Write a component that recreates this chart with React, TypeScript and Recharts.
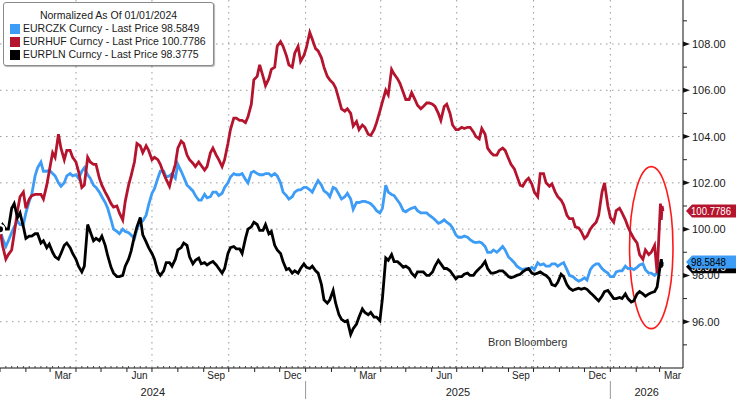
import React from "react";
import {
  CartesianGrid,
  Line,
  LineChart,
  ReferenceArea,
  ReferenceDot,
  XAxis,
  YAxis,
} from "recharts";

// twice-weekly closes (Mon / Thu), normalized to 100 on 01/01/2024
const dates = [
  "2024-01-01", "2024-01-04", "2024-01-08", "2024-01-11", "2024-01-15", "2024-01-18", "2024-01-22", "2024-01-25", "2024-01-29", "2024-02-01",
  "2024-02-05", "2024-02-08", "2024-02-12", "2024-02-15", "2024-02-19", "2024-02-22", "2024-02-26", "2024-02-29",
  "2024-03-04", "2024-03-07", "2024-03-11", "2024-03-14", "2024-03-18", "2024-03-21", "2024-03-25", "2024-03-28",
  "2024-04-01", "2024-04-04", "2024-04-08", "2024-04-11", "2024-04-15", "2024-04-18", "2024-04-22", "2024-04-25", "2024-04-29", "2024-05-02",
  "2024-05-06", "2024-05-09", "2024-05-13", "2024-05-16", "2024-05-20", "2024-05-23", "2024-05-27", "2024-05-30",
  "2024-06-03", "2024-06-06", "2024-06-10", "2024-06-13", "2024-06-17", "2024-06-20", "2024-06-24", "2024-06-27",
  "2024-07-01", "2024-07-04", "2024-07-08", "2024-07-11", "2024-07-15", "2024-07-18", "2024-07-22", "2024-07-25", "2024-07-29", "2024-08-01",
  "2024-08-05", "2024-08-08", "2024-08-12", "2024-08-15", "2024-08-19", "2024-08-22", "2024-08-26", "2024-08-29",
  "2024-09-02", "2024-09-05", "2024-09-09", "2024-09-12", "2024-09-16", "2024-09-19", "2024-09-23", "2024-09-26", "2024-09-30", "2024-10-03",
  "2024-10-07", "2024-10-10", "2024-10-14", "2024-10-17", "2024-10-21", "2024-10-24", "2024-10-28", "2024-10-31",
  "2024-11-04", "2024-11-07", "2024-11-11", "2024-11-14", "2024-11-18", "2024-11-21", "2024-11-25", "2024-11-28",
  "2024-12-02", "2024-12-05", "2024-12-09", "2024-12-12", "2024-12-16", "2024-12-19", "2024-12-23", "2024-12-26", "2024-12-30", "2025-01-02",
  "2025-01-06", "2025-01-09", "2025-01-13", "2025-01-16", "2025-01-20", "2025-01-23", "2025-01-27", "2025-01-30",
  "2025-02-03", "2025-02-06", "2025-02-10", "2025-02-13", "2025-02-17", "2025-02-20", "2025-02-24", "2025-02-27",
  "2025-03-03", "2025-03-06", "2025-03-10", "2025-03-13", "2025-03-17", "2025-03-20", "2025-03-24", "2025-03-27", "2025-03-31", "2025-04-03",
  "2025-04-07", "2025-04-10", "2025-04-14", "2025-04-17", "2025-04-21", "2025-04-24", "2025-04-28", "2025-05-01",
  "2025-05-05", "2025-05-08", "2025-05-12", "2025-05-15", "2025-05-19", "2025-05-22", "2025-05-26", "2025-05-29",
  "2025-06-02", "2025-06-05", "2025-06-09", "2025-06-12", "2025-06-16", "2025-06-19", "2025-06-23", "2025-06-26", "2025-06-30", "2025-07-03",
  "2025-07-07", "2025-07-10", "2025-07-14", "2025-07-17", "2025-07-21", "2025-07-24", "2025-07-28", "2025-07-31",
  "2025-08-04", "2025-08-07", "2025-08-11", "2025-08-14", "2025-08-18", "2025-08-21", "2025-08-25", "2025-08-28",
  "2025-09-01", "2025-09-04", "2025-09-08", "2025-09-11", "2025-09-15", "2025-09-18", "2025-09-22", "2025-09-25", "2025-09-29", "2025-10-02",
  "2025-10-06", "2025-10-09", "2025-10-13", "2025-10-16", "2025-10-20", "2025-10-23", "2025-10-27", "2025-10-30",
  "2025-11-03", "2025-11-06", "2025-11-10", "2025-11-13", "2025-11-17", "2025-11-20", "2025-11-24", "2025-11-27",
  "2025-12-01", "2025-12-04", "2025-12-08", "2025-12-11", "2025-12-15", "2025-12-18", "2025-12-22", "2025-12-25", "2025-12-29", "2026-01-01",
  "2026-01-05", "2026-01-08", "2026-01-12", "2026-01-15", "2026-01-19", "2026-01-22", "2026-01-26", "2026-01-29",
  "2026-02-02", "2026-02-05", "2026-02-09", "2026-02-12", "2026-02-16", "2026-02-19", "2026-02-23", "2026-02-26",
  "2026-03-02", "2026-03-03", "2026-03-04", "2026-03-05",
];

const eurczk = [
  100.0, 99.6, 99.25, 99.5, 99.85, 100.1, 100.35, 100.2, 100.2, 100.7,
  101.2, 101.5, 102.3, 102.65, 102.9, 102.5, 102.5, 102.55,
  102.4, 102.3, 102.0, 101.85, 102.0, 102.3, 102.4, 102.3,
  102.35, 102.2, 102.5, 102.65, 102.35, 102.2, 101.9, 101.8, 101.6, 101.4,
  101.15, 100.9, 100.4, 100.0, 99.9, 99.8, 100.0, 99.9,
  99.85, 99.75, 99.6, 100.0, 100.3, 100.35, 100.6, 101.05,
  101.55, 101.75, 102.2, 102.5, 102.5, 102.25, 102.3, 102.4, 102.2, 102.8,
  102.5, 102.25, 101.9, 101.8, 101.65, 101.45, 101.25, 101.25,
  101.5, 101.35, 101.4, 101.6, 101.6, 101.45, 101.55, 101.8, 102.0, 102.25,
  102.4, 102.35, 102.35, 102.4, 102.15, 102.0, 102.45, 102.5,
  102.4, 102.35, 102.35, 102.4, 102.4, 102.3, 102.4, 102.3,
  102.0, 101.6, 101.45, 101.3, 101.4, 101.6, 101.7, 101.7, 101.8, 101.8,
  101.7, 101.6, 101.9, 102.1, 101.9, 101.65, 101.55, 101.4,
  101.8, 101.75, 101.5, 101.3, 101.4, 101.55, 101.3, 100.85,
  101.15, 101.15, 101.2, 101.2, 101.15, 101.1, 100.95, 100.8, 100.7, 100.9,
  101.9, 101.6, 101.5, 101.45, 101.25, 101.1, 100.8, 100.75,
  100.85, 100.9, 100.95, 100.8, 100.7, 100.7, 100.7, 100.6,
  100.5, 100.4, 100.25, 100.3, 100.4, 100.3, 100.2, 100.05, 99.75, 99.65,
  99.65, 99.7, 99.65, 99.55, 99.45, 99.42, 99.45, 99.4,
  99.25, 99.0, 99.0, 99.1, 99.0, 99.1, 99.25, 99.1,
  98.8, 98.7, 98.55, 98.4, 98.3, 98.25, 98.3, 98.25, 98.35, 98.25,
  98.55, 98.45, 98.5, 98.4, 98.4, 98.5, 98.5, 98.4,
  98.5, 98.55, 98.25, 98.0, 97.95, 97.85, 97.75, 97.8,
  97.9, 97.8, 98.25, 98.4, 98.5, 98.5, 98.3, 98.2, 98.1, 97.95,
  97.95, 98.15, 98.2, 98.2, 98.4, 98.3, 98.3, 98.25,
  98.35, 98.45, 98.5, 98.25, 98.1, 98.1, 98.0, 98.1,
  98.4, 98.5, 98.5, 98.5849,
];

const eurhuf = [
  100.0, 99.3, 98.7, 98.9, 99.1, 99.8, 100.8, 101.4, 101.6, 100.9,
  101.3, 101.45, 101.5, 101.5, 101.5, 101.3, 101.9, 102.5,
  103.3, 103.1, 104.1, 103.5, 103.0, 103.4, 103.4, 103.1,
  102.9, 102.5, 101.8, 101.9, 103.1, 102.9, 102.8, 102.8, 102.2, 101.9,
  101.6, 101.4, 101.1, 100.95, 101.0, 100.7, 100.4, 101.2,
  101.9, 102.3, 102.9, 103.7, 103.6, 103.3, 103.6, 103.4,
  103.0, 103.1, 103.0, 102.8, 102.4, 102.15, 101.85, 102.3, 102.8, 103.5,
  103.8, 103.7, 103.2, 103.0, 102.85, 102.7, 102.9, 102.75,
  102.55, 102.7, 103.3, 103.5, 103.2, 103.0, 102.7, 103.0, 103.7, 104.3,
  104.8, 104.8, 104.7, 104.7, 104.6, 104.85, 105.4, 106.45,
  106.6, 107.1, 106.6, 106.2, 106.5, 106.9, 107.0, 107.9,
  108.1, 107.9, 107.5, 107.1, 107.0, 107.6, 107.9, 107.25, 107.5, 107.85,
  108.5, 108.2, 107.8, 107.7, 107.4, 107.0, 106.6, 106.45,
  106.3, 106.1, 105.6, 105.2, 105.1, 105.2, 105.0, 104.45,
  104.65, 104.3, 104.5, 104.4, 104.1, 104.05, 104.3, 104.6, 105.1, 105.5,
  106.0, 105.8, 106.9, 106.7, 106.5, 106.3, 105.9, 105.6,
  105.6, 105.9, 105.6, 105.35, 105.2, 105.3, 105.45, 105.45,
  105.4, 105.3, 105.0, 104.7, 105.3, 105.4, 105.0, 104.5, 104.3, 104.3,
  104.4, 104.35, 104.4, 104.4, 104.2, 104.0, 103.9, 104.35,
  104.1, 103.5, 103.3, 103.2, 103.2, 103.4, 103.5, 103.4,
  103.05, 102.8, 102.6, 102.3, 101.9, 101.85, 102.1, 102.2, 101.95, 101.6,
  101.4, 102.4, 102.4, 102.0, 101.85, 101.95, 101.6, 101.4,
  101.25, 101.05, 100.6, 100.45, 100.45, 100.1, 100.05, 99.9,
  99.6, 99.7, 100.0, 100.15, 100.3, 100.6, 101.6, 102.0, 101.0, 100.5,
  100.3, 100.8, 100.9, 100.7, 100.4, 100.1, 99.8, 99.6,
  99.4, 98.9, 98.7, 99.1, 98.9, 99.0, 99.3, 98.1,
  101.1, 100.4, 101.0, 100.7786,
];

const eurpln = [
  100.0, 100.2, 100.0, 100.0, 100.9, 101.1, 100.5, 100.7, 100.1, 99.6,
  99.7, 99.7, 99.8, 99.8, 99.4, 99.5, 99.2, 99.35,
  99.0, 98.8, 98.7, 98.95, 99.3, 99.4, 99.2, 98.95,
  98.7, 98.4, 98.15, 98.4, 100.2, 99.9, 99.5, 99.6, 99.5, 99.7,
  99.3, 98.85, 98.35, 98.1, 97.95, 97.95, 98.0, 98.4,
  98.7, 99.05, 99.7, 100.1, 100.5, 99.75, 99.45, 99.2,
  98.95, 98.7, 98.15, 98.0, 98.2, 98.55, 98.55, 98.4, 98.7, 99.1,
  99.2, 99.4, 99.3, 98.8, 98.5, 98.65, 98.75, 98.5,
  98.55, 98.45, 98.55, 98.6, 98.45, 98.3, 98.1, 98.3, 98.95, 99.2,
  99.25, 99.15, 99.15, 98.95, 99.6, 100.0, 100.1, 100.3,
  100.2, 99.95, 99.95, 100.2, 99.8, 99.9, 99.3, 99.1,
  98.95, 98.6, 98.25, 98.3, 98.1, 98.2, 98.1, 98.3, 98.5, 98.35,
  98.3, 98.4, 98.2, 98.1, 97.6, 96.95, 96.8, 96.95,
  97.35, 96.8, 96.3, 96.1, 96.0, 96.05, 95.45, 95.7,
  95.9, 96.2, 96.55, 96.4, 96.3, 96.4, 96.2, 96.2, 96.05, 97.0,
  98.75, 98.65, 98.9, 98.6, 98.6, 98.5, 98.35, 98.4,
  98.3, 98.1, 97.95, 98.15, 98.15, 98.15, 98.0, 98.0,
  98.15, 98.4, 98.65, 98.5, 98.3, 98.3, 98.2, 98.05, 97.85, 97.95,
  97.95, 98.05, 98.1, 98.0, 98.0, 98.15, 98.3, 98.4,
  98.6, 98.3, 98.1, 98.1, 98.15, 98.2, 98.2, 98.1,
  97.95, 97.9, 97.95, 98.0, 98.05, 98.15, 98.25, 98.3, 98.1, 98.05,
  98.1, 98.15, 98.05, 98.0, 97.85, 97.6, 97.55, 97.7,
  98.05, 97.95, 97.6, 97.45, 97.35, 97.4, 97.45, 97.4,
  97.45, 97.4, 97.25, 97.15, 97.0, 96.9, 97.1, 97.3, 97.35, 97.2,
  97.0, 97.0, 97.05, 97.0, 97.2, 97.0, 96.85, 96.9,
  97.2, 97.3, 97.2, 97.1, 97.2, 97.25, 97.3, 97.5,
  98.5, 98.7, 98.4, 98.3775,
];

const monthStarts = [
  "2024-01-01", "2024-02-01", "2024-03-01", "2024-04-01", "2024-05-01", "2024-06-01",
  "2024-07-01", "2024-08-01", "2024-09-01", "2024-10-01", "2024-11-01", "2024-12-01",
  "2025-01-01", "2025-02-01", "2025-03-01", "2025-04-01", "2025-05-01", "2025-06-01",
  "2025-07-01", "2025-08-01", "2025-09-01", "2025-10-01", "2025-11-01", "2025-12-01",
  "2026-01-01", "2026-02-01", "2026-03-01",
];
const quarterStarts = [
  "2024-04-01", "2024-07-01", "2024-10-01", "2025-01-01",
  "2025-04-01", "2025-07-01", "2025-10-01", "2026-01-01",
];
const monthLabels: Record<number, string> = { 2: "Mar", 5: "Jun", 8: "Sep", 11: "Dec" };

const yMajor = [96, 98, 100, 102, 104, 106, 108];
const yTicks = [95, 96, 97, 98, 99, 100, 101, 102, 103, 104, 105, 106, 107, 108, 109];

const BLUE = "#3d9cf5";
const RED = "#b5142e";
const BLACK = "#000000";
const FONT = '"Liberation Sans", Arial, sans-serif';

const T0 = Date.parse("2024-01-01");
const TEND = Date.parse("2026-03-29");
const PLOT_W = 683;
const PX_PER_MS = PLOT_W / (TEND - T0);

const monthSet = new Set(monthStarts.map((d) => Date.parse(d)));
const minorTicks = dates
  .filter((d) => new Date(d).getUTCDay() === 1)
  .map((d) => Date.parse(d))
  .filter((t) => !monthSet.has(t));
const xTicks = [...monthStarts.map((d) => Date.parse(d)), ...minorTicks].sort((a, b) => a - b);

const rows = dates.map((d, i) => ({
  t: Date.parse(d),
  czk: eurczk[i],
  huf: eurhuf[i],
  pln: eurpln[i],
}));

const last = rows[rows.length - 1];

function XTick(props: any) {
  const { x, y, payload } = props;
  const v: number = payload.value;
  if (!monthSet.has(v)) {
    return <line x1={x} x2={x} y1={y} y2={y - 2} stroke="#444" />;
  }
  const d = new Date(v);
  const m = d.getUTCMonth();
  const yr = d.getUTCFullYear();
  const next = Date.UTC(yr, m + 1, 1);
  const label = monthLabels[m];
  let yearPart = null;
  if (m === 0) {
    const yearEnd = Math.min(Date.UTC(yr + 1, 0, 1), TEND);
    const yx = x + ((yearEnd - v) / 2) * PX_PER_MS;
    yearPart = (
      <g>
        {v !== T0 && <line x1={x} x2={x} y1={y + 13} y2={y + 31} stroke="#999" />}
        <text x={yx} y={y + 28} textAnchor="middle" fontSize={11} fill="#222" fontFamily={FONT}>
          {yr}
        </text>
      </g>
    );
  }
  return (
    <g>
      <line x1={x} x2={x} y1={y} y2={y + 4} stroke="#222" />
      {label && (
        <text
          x={x + ((next - v) / 2) * PX_PER_MS}
          y={y + 11}
          textAnchor="middle"
          fontSize={10}
          fill="#222"
          fontFamily={FONT}
        >
          {label}
        </text>
      )}
      {yearPart}
    </g>
  );
}

function YTick(props: any) {
  const { x, y, payload } = props;
  const v: number = payload.value;
  if (v % 2 !== 0) {
    return <line x1={x} x2={x + 4} y1={y} y2={y} stroke="#222" />;
  }
  return (
    <g>
      <polygon points={`${x},${y - 2.5} ${x + 7},${y} ${x},${y + 2.5}`} fill="#111" />
      <text x={x + 9} y={y + 4} fontSize={11} fill="#1a1a1a" fontFamily={FONT}>
        {v.toFixed(2)}
      </text>
    </g>
  );
}

function priceTag(bg: string, fg: string, text: string) {
  return (p: any) => {
    const { cx, cy } = p;
    return (
      <g>
        <polygon
          points={`${cx + 3},${cy} ${cx + 9},${cy - 6.5} 736,${cy - 6.5} 736,${cy + 6.5} ${cx + 9},${cy + 6.5}`}
          fill={bg}
        />
        <text
          x={cx + 8}
          y={cy + 4}
          fontSize={10.5}
          fill={fg}
          fontFamily={FONT}
          textLength={text.length > 7 ? 40 : 35}
          lengthAdjust="spacingAndGlyphs"
        >
          {text}
        </text>
      </g>
    );
  };
}

function Ellipse(p: any) {
  const { x, y, width, height } = p;
  return (
    <ellipse
      cx={x + width / 2}
      cy={y + height / 2}
      rx={width / 2}
      ry={height / 2}
      fill="none"
      stroke="#ff1a1a"
      strokeWidth={1.6}
    />
  );
}

const legendRows = [
  { color: BLUE, text: "EURCZK Curncy - Last Price 98.5849" },
  { color: RED, text: "EURHUF Curncy - Last Price 100.7786" },
  { color: BLACK, text: "EURPLN Curncy - Last Price 98.3775" },
];

export default function App() {
  return (
    <div
      style={{
        position: "absolute",
        left: 0,
        top: 0,
        width: 736,
        height: 399,
        background: "#fff",
        fontFamily: FONT,
        overflow: "hidden",
      }}
    >
      <LineChart width={736} height={399} data={rows} margin={{ top: 0, right: 0, bottom: 0, left: 0 }}>
        <CartesianGrid
          stroke="#9a9a9a"
          strokeDasharray="1.5 4.5"
          horizontalValues={yMajor}
          verticalValues={quarterStarts.map((d) => Date.parse(d))}
        />
        <XAxis
          dataKey="t"
          type="number"
          scale="linear"
          domain={[T0, TEND]}
          ticks={xTicks}
          interval={0}
          tick={<XTick />}
          tickLine={false}
          tickSize={0}
          tickMargin={0}
          height={31}
          axisLine={{ stroke: "#111" }}
          allowDataOverflow
        />
        <YAxis
          orientation="right"
          type="number"
          domain={[94.0, 109.9]}
          ticks={yTicks}
          interval={0}
          tick={<YTick />}
          tickLine={false}
          tickSize={0}
          tickMargin={0}
          width={53}
          axisLine={{ stroke: "#111" }}
          allowDataOverflow
        />
        <Line type="linear" dataKey="czk" stroke={BLUE} strokeWidth={2.8} dot={false} isAnimationActive={false} />
        <Line type="linear" dataKey="huf" stroke={RED} strokeWidth={2.8} dot={false} isAnimationActive={false} />
        <Line type="linear" dataKey="pln" stroke={BLACK} strokeWidth={2.8} dot={false} isAnimationActive={false} />
        <ReferenceArea
          x1={Date.parse("2026-01-24")}
          x2={Date.parse("2026-03-17")}
          y1={95.7}
          y2={102.7}
          ifOverflow="visible"
          shape={Ellipse}
        />
        <ReferenceDot x={TEND} y={last.pln} r={0} ifOverflow="visible" shape={priceTag(BLACK, "#fff", "98.3775")} />
        <ReferenceDot x={TEND} y={last.czk} r={0} ifOverflow="visible" shape={priceTag(BLUE, "#000", "98.5848")} />
        <ReferenceDot x={TEND} y={last.huf} r={0} ifOverflow="visible" shape={priceTag(RED, "#fff", "100.7786")} />
      </LineChart>

      <div
        style={{
          position: "absolute",
          left: 3,
          top: 2,
          width: 211,
          height: 64,
          border: "1px solid #8a8a8a",
          borderRadius: 3,
          background: "#fff",
          boxShadow: "1px 1px 1px rgba(0,0,0,0.3)",
          fontSize: 10.5,
          lineHeight: "13px",
          color: "#1a1a1a",
          paddingTop: 6,
          boxSizing: "border-box",
          whiteSpace: "nowrap",
        }}
      >
        <div style={{ textAlign: "center" }}>Normalized As Of 01/01/2024</div>
        {legendRows.map((r) => (
          <div key={r.text} style={{ display: "flex", alignItems: "center", paddingLeft: 6 }}>
            <span style={{ width: 10, height: 10, background: r.color, marginRight: 3, display: "inline-block", flex: "none" }} />
            <span>{r.text}</span>
          </div>
        ))}
      </div>

      <div style={{ position: "absolute", left: 488, top: 336, fontSize: 11, color: "#333" }}>Bron Bloomberg</div>
    </div>
  );
}
